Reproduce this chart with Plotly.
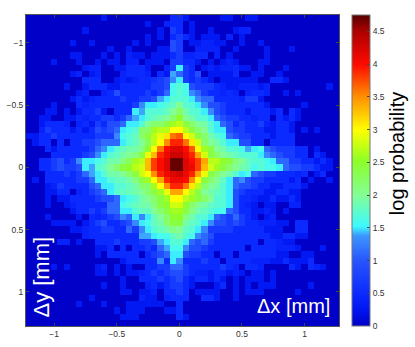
import plotly.graph_objects as go

# log probability in tenths, top row first
log_prob_tenths = [
[0,0,0,0,0,0,0,0,0,0, 0,0,3,0,0,0,0,0,0,0, 0,0,0,5,5,3,0,0,0,0, 0,3,3,0,0,3,3,0,0,0, 0,0,0,0,0,0,0,0,0,0],
[0,0,0,0,0,0,0,0,0,0, 0,0,0,0,0,0,0,0,0,3, 0,0,4,5,5,0,3,0,0,0, 0,0,0,0,0,0,0,0,0,0, 0,0,0,0,0,0,0,0,0,0],
[0,0,0,0,0,0,0,0,0,3, 0,0,0,0,0,0,0,0,0,0, 0,3,0,7,5,0,3,0,0,3, 0,0,0,3,4,4,0,0,0,0, 0,0,0,0,0,0,0,0,0,0],
[0,0,0,0,0,0,0,0,0,0, 0,0,0,0,0,0,0,0,0,3, 0,3,0,5,7,5,3,0,3,3, 3,0,4,0,3,0,0,0,0,0, 0,0,0,0,0,0,0,0,0,0],
[0,0,0,0,0,0,0,3,0,0, 3,0,0,0,0,0,0,3,0,3, 0,0,0,9,7,0,3,3,4,4, 3,3,0,0,3,0,0,3,0,0, 0,0,0,0,0,0,0,0,0,0],
[0,0,0,0,0,0,0,0,0,0, 0,0,0,3,0,0,3,0,0,0, 0,3,3,9,7,0,0,4,4,4, 4,0,0,3,0,0,0,0,3,0, 0,0,3,0,0,0,0,0,0,0],
[0,0,0,0,0,0,0,3,3,0, 0,0,3,0,3,0,4,3,3,0, 3,3,3,5,7,4,4,5,5,0, 4,0,3,0,0,0,0,0,3,0, 0,0,0,0,0,0,0,0,0,0],
[0,0,0,0,3,0,0,0,3,0, 0,3,0,3,3,0,4,4,0,3, 3,3,0,7,7,5,5,3,0,3, 0,3,4,3,0,0,0,3,3,0, 0,0,0,0,0,0,0,0,0,0],
[0,0,0,0,0,0,0,0,0,3, 4,4,0,0,3,3,5,5,5,3, 0,0,4,7,15,7,5,0,3,4, 3,4,4,5,3,3,0,3,0,0, 0,3,0,0,0,0,0,0,0,0],
[0,0,0,0,0,0,0,3,4,0, 3,4,0,0,0,4,5,5,5,4, 0,5,3,14,11,7,5,9,0,3, 3,3,3,5,0,0,3,3,0,0, 3,0,0,0,0,0,0,0,0,0],
[0,0,0,0,0,0,0,0,0,5, 5,5,0,0,3,4,3,4,5,5, 6,7,9,13,15,7,5,7,5,3, 0,3,3,3,3,3,3,0,0,5, 5,3,0,0,0,0,0,0,0,0],
[0,0,0,0,0,0,3,0,0,3, 5,5,5,3,3,5,5,5,5,5, 7,7,9,16,17,16,9,7,7,7, 5,4,3,3,4,4,4,3,4,0, 0,0,0,0,0,0,0,0,3,0],
[0,0,0,0,0,0,0,0,3,4, 0,0,4,5,9,5,5,5,5,7, 5,7,11,16,17,16,13,11,7,5, 5,4,5,4,0,4,5,5,4,0, 0,3,0,3,0,0,0,0,0,0],
[0,0,0,0,0,0,0,3,5,3, 4,5,5,5,5,7,5,5,7,7, 9,14,15,17,17,17,15,13,11,11, 5,5,5,5,4,7,7,3,0,0, 0,0,0,0,0,0,0,0,0,0],
[0,0,0,0,3,0,0,0,5,4, 5,5,5,5,5,5,5,7,13,15, 15,16,17,18,20,17,17,15,13,9, 9,7,5,5,5,5,5,5,3,0, 0,0,0,0,3,0,0,0,0,0],
[0,0,0,3,3,0,3,0,3,5, 5,7,3,0,5,5,5,15,14,17, 17,17,18,20,22,19,17,17,15,13, 9,7,5,5,5,3,5,5,5,3, 5,0,5,3,0,0,0,0,0,0],
[0,0,3,3,0,0,3,3,5,4, 5,5,7,7,5,7,11,14,15,17, 18,19,20,22,25,20,19,17,17,15, 11,9,7,7,5,5,4,5,5,0, 5,3,5,3,0,0,0,0,0,0],
[0,0,3,5,5,5,4,0,4,5, 3,7,5,9,9,11,15,15,17,20, 22,22,24,26,27,24,22,20,19,17, 15,11,9,5,7,5,5,7,4,3, 5,5,3,0,0,0,0,0,0,0],
[0,0,4,7,5,5,5,3,5,3, 5,9,7,9,11,15,16,17,22,22, 26,27,27,30,30,27,24,22,20,17, 15,15,9,7,7,5,5,5,3,3, 5,5,3,0,3,0,3,0,0,0],
[3,3,5,5,7,5,5,5,5,5, 5,7,7,7,13,16,17,18,22,24, 27,29,31,36,37,30,28,24,22,19, 17,16,11,9,7,7,5,5,5,3, 5,5,5,0,0,0,0,0,0,0],
[0,3,5,5,0,5,0,5,5,7, 7,9,11,11,11,15,17,18,20,23, 27,30,35,39,39,36,31,28,22,20, 19,17,15,15,9,9,5,5,0,5, 5,5,5,0,0,0,0,0,0,0],
[0,0,0,5,3,5,5,5,5,5, 7,11,13,15,17,18,19,19,21,25, 30,36,40,42,42,40,37,30,26,24, 20,19,17,17,16,14,15,16,11,9, 7,7,7,5,5,0,3,0,0,0],
[0,0,0,0,5,5,5,5,5,7, 9,13,15,17,18,19,20,21,24,29, 33,39,41,43,43,41,39,34,28,24, 22,20,19,18,17,17,17,15,13,11, 9,7,7,5,5,0,5,3,0,0],
[0,0,5,5,7,9,5,7,13,15, 15,16,17,19,19,21,23,26,27,33, 38,40,42,47,47,42,40,38,34,27, 27,25,24,21,20,18,17,17,16,15, 11,11,7,7,5,5,3,5,3,0],
[0,0,5,5,7,9,7,7,9,15, 14,17,18,20,22,24,25,27,28,33, 38,40,42,47,47,42,41,38,33,28, 26,24,22,20,19,18,16,17,16,16, 15,11,9,9,7,7,5,3,3,0],
[0,0,0,5,5,5,7,5,7,11, 14,15,17,19,19,20,22,24,28,30, 35,39,41,42,43,41,39,34,29,24, 22,20,19,17,15,16,11,9,7,7, 5,5,5,4,5,0,3,5,0,0],
[0,3,0,5,5,5,5,5,7,7, 11,15,15,17,18,18,19,21,24,26, 30,34,39,41,41,40,35,30,24,22, 20,18,15,11,13,9,7,7,5,5, 5,5,3,5,0,3,0,0,3,0],
[0,0,0,3,4,7,5,5,5,5, 9,11,15,15,17,17,18,19,22,22, 26,30,35,39,39,36,31,27,22,20, 19,17,15,11,9,9,7,5,5,3, 3,5,5,5,3,0,0,0,0,0],
[0,0,0,3,3,5,5,0,4,5, 7,9,11,15,17,18,18,19,20,22, 24,26,29,34,34,30,27,24,20,19, 18,17,15,9,7,5,5,5,3,3, 5,5,3,3,0,0,0,0,0,0],
[0,0,0,3,0,3,3,5,5,5, 5,7,9,9,11,15,16,17,19,20, 22,24,26,30,30,27,26,24,22,20, 17,17,15,9,5,5,4,3,3,5, 3,3,5,3,0,0,0,0,0,0],
[0,0,0,3,0,0,3,4,5,5, 5,5,5,11,11,16,17,18,19,19, 21,24,25,28,28,25,22,20,19,18, 17,17,15,9,5,4,3,0,3,3, 0,0,4,4,0,0,0,0,0,0],
[0,0,0,0,0,0,0,3,5,5, 7,5,7,11,11,15,15,17,18,18, 20,22,24,26,26,24,21,19,18,17, 16,16,11,9,5,5,3,3,4,3, 0,3,0,0,0,0,0,0,0,0],
[0,0,0,3,0,0,0,0,3,0, 5,4,5,7,9,13,11,15,13,15, 18,20,22,25,25,21,19,17,17,15, 11,9,7,11,7,5,3,0,3,4, 0,0,0,0,0,0,0,0,0,0],
[0,0,0,0,3,3,3,3,0,3, 5,7,9,5,5,7,9,13,15,16, 18,19,22,24,24,19,18,17,15,13, 9,9,7,9,7,5,5,4,4,4, 3,3,0,5,5,0,0,0,0,0],
[0,0,0,0,0,0,0,3,3,4, 5,5,7,7,5,5,11,7,13,15, 17,18,19,21,20,18,17,15,13,7, 7,7,7,5,5,5,5,5,3,3, 3,0,0,5,5,0,0,0,0,0],
[0,0,0,0,0,0,0,0,0,4, 5,5,5,5,5,5,5,5,14,14, 15,16,16,18,19,17,16,13,11,9, 5,5,5,5,5,5,5,5,5,3, 3,5,5,3,3,0,0,0,0,0],
[0,0,0,0,0,4,4,0,3,0, 0,5,5,5,7,5,5,5,7,7, 9,14,15,17,17,15,11,9,11,7, 5,5,5,5,5,5,5,0,5,5, 4,3,3,0,0,0,0,0,0,0],
[0,0,0,0,0,0,0,0,0,0, 0,3,3,5,0,5,0,5,5,7, 5,11,14,16,16,13,9,9,7,5, 5,5,5,5,5,0,5,5,5,5, 4,4,4,3,0,0,0,3,0,0],
[0,0,0,0,0,0,0,0,0,0, 0,3,0,5,5,5,5,5,0,5, 7,9,11,15,15,9,7,7,5,5, 0,5,5,0,5,5,5,5,5,5, 3,3,0,0,3,3,0,0,0,0],
[0,0,0,0,0,0,0,0,0,0, 0,0,0,0,0,3,5,5,5,5, 5,13,5,15,13,5,5,5,7,5, 5,0,5,5,5,5,4,4,4,3, 3,5,3,3,3,5,0,0,0,0],
[0,0,0,0,3,0,3,0,0,0, 0,3,4,0,3,0,3,0,0,5, 5,7,7,11,11,7,5,5,5,5, 5,7,5,4,0,5,5,4,0,0, 0,0,5,3,0,5,4,3,0,0],
[0,0,0,0,0,0,0,0,0,0, 0,3,3,0,3,0,3,3,4,5, 7,5,7,9,9,7,5,4,4,3, 5,5,3,4,3,0,3,3,0,3, 0,0,0,0,0,0,0,0,0,0],
[0,0,0,0,0,0,0,0,0,0, 0,0,0,0,0,3,0,0,5,5, 5,7,5,7,9,5,3,5,5,3, 5,3,0,3,0,3,3,3,0,3, 0,0,0,0,0,0,0,0,0,0],
[0,0,0,0,0,0,0,0,0,0, 0,0,3,0,0,3,0,0,0,4, 5,3,5,7,7,5,3,0,0,0, 3,5,0,3,0,3,0,3,3,3, 0,0,0,0,0,3,0,0,0,0],
[0,0,0,0,0,0,0,0,0,0, 0,0,0,0,0,3,3,0,3,3, 4,0,5,5,7,5,0,3,3,3, 3,0,0,3,0,3,3,3,0,0, 0,0,0,3,0,0,0,0,0,0],
[0,0,0,0,0,0,0,0,0,0, 3,0,0,0,0,0,0,0,4,3, 3,0,4,5,5,5,0,0,5,5, 3,0,0,3,0,0,0,0,0,0, 0,0,0,0,0,0,0,0,0,0],
[0,0,0,0,0,0,0,0,3,0, 0,0,3,0,0,0,3,3,3,3, 3,3,0,0,5,0,0,0,0,0, 0,0,0,0,0,0,0,0,0,0, 0,0,0,0,0,0,0,0,0,0],
[0,0,0,0,0,0,0,0,0,0, 0,0,0,0,3,0,3,3,3,0, 0,0,3,3,5,0,0,0,0,0, 0,0,0,0,0,0,0,0,0,0, 0,0,0,0,0,0,0,0,0,0],
[0,0,0,0,0,0,0,0,0,0, 0,0,0,0,0,3,3,3,0,0, 0,0,0,0,5,3,0,0,0,0, 0,0,0,0,0,0,0,0,0,0, 0,0,0,0,0,0,0,0,0,0],
[0,0,0,0,0,0,0,0,0,0, 0,0,0,0,0,0,0,0,0,0, 0,0,0,0,0,0,0,0,0,0, 0,0,0,0,0,0,0,0,0,0, 0,0,0,0,0,0,0,0,0,0],
]
assert len(log_prob_tenths) == 50 and all(len(r) == 50 for r in log_prob_tenths)

dx_first = -1.2
dy_first = -1.2
cell_mm = 0.05
xy_ticks = [-1, -0.5, 0, 0.5, 1]
cbar_ticks = [0, 0.5, 1, 1.5, 2, 2.5, 3, 3.5, 4, 4.5]
z_max = 4.75

z = [[v / 10 for v in row] for row in log_prob_tenths]

# jet-like map, as seen on the colour bar
cmap = [
    [0.0, "rgb(0,0,200)"],
    [0.05, "rgb(0,20,240)"],
    [0.10, "rgb(10,40,255)"],
    [0.21, "rgb(40,85,255)"],
    [0.29, "rgb(60,150,255)"],
    [0.32, "rgb(60,250,255)"],
    [0.42, "rgb(130,255,150)"],
    [0.53, "rgb(140,255,40)"],
    [0.63, "rgb(255,255,0)"],
    [0.74, "rgb(255,140,0)"],
    [0.84, "rgb(255,10,0)"],
    [0.95, "rgb(170,0,0)"],
    [1.0, "rgb(85,0,0)"],
]

FONT = "Liberation Sans, Arial, sans-serif"
L, T, W, H = 25.5, 14.5, 313.5, 311.5
FIG_W, FIG_H = 415, 347

fig = go.Figure(go.Heatmap(
    z=z, x0=dx_first, dx=cell_mm, y0=dy_first, dy=cell_mm,
    colorscale=cmap, zmin=0, zmax=z_max, zsmooth=False, hoverongaps=False,
    colorbar=dict(
        x=(352 - L) / W, xanchor="left", xpad=0, y=0.5, yanchor="middle", ypad=0,
        len=1, lenmode="fraction", thickness=18, thicknessmode="pixels",
        tickmode="array", tickvals=cbar_ticks, ticktext=[str(t) for t in cbar_ticks],
        ticks="inside", ticklen=3, tickwidth=1, tickcolor="#444",
        tickfont=dict(family=FONT, size=8.5, color="#333"),
        outlinecolor="#777", outlinewidth=1,
    ),
))


def axis_style():
    return dict(
        tickmode="array", tickvals=xy_ticks,
        ticks="inside", ticklen=3, tickwidth=1, tickcolor="#444",
        showline=True, linecolor="#555", linewidth=1, mirror="allticks",
        showgrid=False, zeroline=False, automargin=False,
        tickfont=dict(family=FONT, size=8.5, color="#333"),
    )


fig.update_xaxes(range=[-1.225, 1.275], **axis_style())
fig.update_yaxes(range=[1.275, -1.225], **axis_style())


def note(text, px, py, size, color, angle=0):
    return dict(text=text, xref="paper", yref="paper", xanchor="center", yanchor="middle",
                x=(px - L) / W, y=1 - (py - T) / H, textangle=angle, showarrow=False,
                font=dict(family=FONT, size=size, color=color))


fig.update_layout(
    width=FIG_W, height=FIG_H, autosize=False,
    margin=dict(l=L, t=T, r=FIG_W - L - W, b=FIG_H - T - H, pad=0),
    paper_bgcolor="white", plot_bgcolor="white",
    annotations=[
        note("Δy [mm]", 41, 277, 22, "white", -90),
        note("Δx [mm]", 293, 306, 20, "white"),
        note("log probability", 397, 153, 20, "black", -90),
    ],
)

fig.write_html("out.html", config=dict(displayModeBar=False),
               post_script="document.body.style.margin='0';document.body.style.overflow='hidden';")
